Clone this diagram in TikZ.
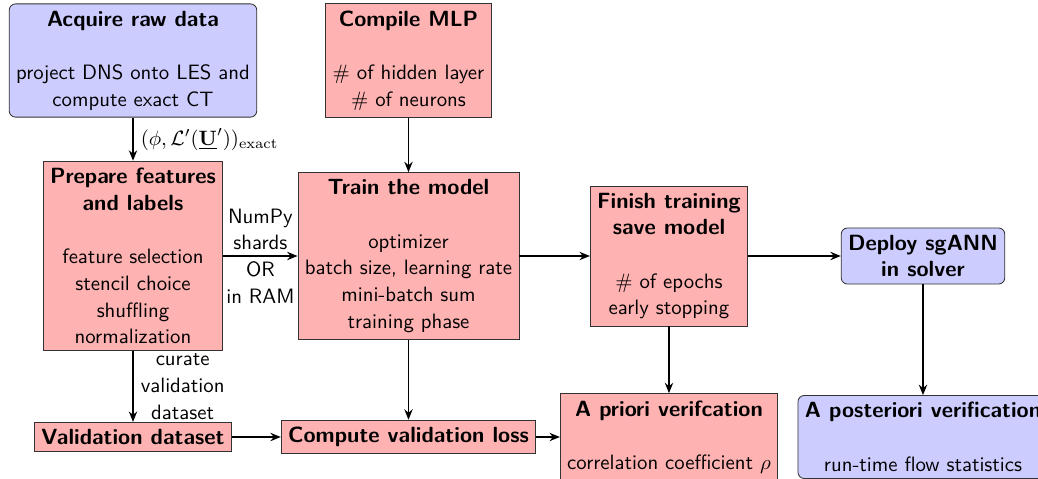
\documentclass[tikz,border=0pt]{standalone}
\usepackage{amsmath,amssymb}
\usetikzlibrary{arrows.meta}
\newcommand\hd[1]{{\fontsize{10.6}{12.85}\selectfont\bfseries #1}}
\begin{document}
\begin{tikzpicture}[x=0.4815pt,y=-0.4815pt,
  txt/.style={font=\sffamily\fontsize{10}{12.85}\selectfont, align=center},
  box/.style={txt, draw=black!80, inner sep=3.33pt},
  redbox/.style={box, fill=red!30},
  bluebox/.style={box, fill=blue!20, rounded corners=3pt},
  arr/.style={thick, -{Stealth[length=5pt,width=4pt]}}]
\useasboundingbox (0,0) rectangle (1038,479);

\node[bluebox] (acq) at (133,60.5) {\hd{Acquire raw data}\\ \\ project DNS onto LES and\\ compute exact CT};
\node[redbox] (mlp) at (408.5,60.5) {\hd{Compile MLP}\\ \\ $\#$ of hidden layer\\ $\#$ of neurons};
\node[redbox] (prep) at (133,256) {\hd{Prepare features}\\ \hd{and labels}\\ \\ feature selection\\ stencil choice\\ shuffling\\ normalization};
\node[redbox] (train) at (408.5,256) {\hd{Train the model}\\ \\ optimizer\\ batch size, learning rate\\ mini-batch sum\\ training phase};
\node[redbox] (finish) at (669,256) {\hd{Finish training}\\ \hd{save model}\\ \\ $\#$ of epochs\\ early stopping};
\node[bluebox] (deploy) at (923,256) {\hd{Deploy sgANN}\\ \hd{in solver}};
\node[redbox] (val) at (133,437) {\hd{Validation dataset}};
\node[redbox] (loss) at (408.5,437) {\hd{Compute validation loss}};
\node[redbox] (apriori) at (669,437) {\hd{A priori verifcation}\\ \\ correlation coefficient $\rho$};
\node[bluebox] (apost) at (923,437) {\hd{A posteriori verification}\\ \\ run-time flow statistics};

\draw[arr] (acq) -- node[txt, right] {$(\phi,\mathcal{L}'(\underline{\mathbf{U}}'))_{\mathrm{exact}}$} (prep);
\draw[arr] (mlp) -- (train);
\draw[arr] (prep) -- node[txt] {NumPy\\ shards\\ OR\\ in RAM} (train);
\draw[arr] (train) -- (finish);
\draw[arr] (finish) -- (deploy);
\draw[arr] (prep) -- node[txt, right] {curate\\ validation\\ dataset} (val);
\draw[arr] (train) -- (loss);
\draw[arr] (val) -- (loss);
\draw[arr] (loss) -- (apriori);
\draw[arr] (finish) -- (apriori);
\draw[arr] (deploy) -- (apost);
\end{tikzpicture}
\end{document}
